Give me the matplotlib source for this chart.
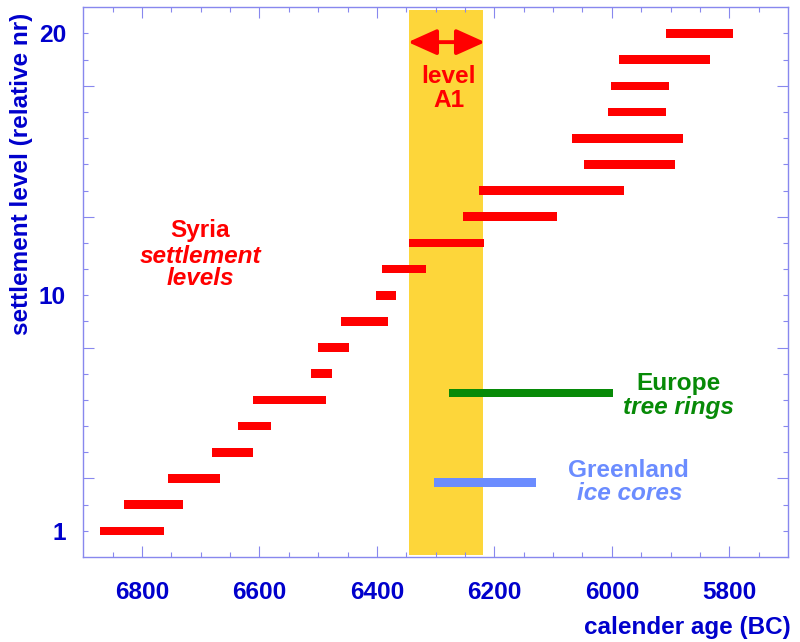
import matplotlib
matplotlib.use("Agg")
import matplotlib.pyplot as plt
import numpy as np

# ---- data ----
levels = list(range(1, 21))
level_start = [6871, 6831, 6756, 6680, 6636, 6611, 6512, 6501, 6462, 6402,
               6392, 6346, 6253, 6226, 6047, 6067, 6007, 6002, 5987, 5907]
level_end = [6762, 6731, 6667, 6611, 6581, 6487, 6477, 6447, 6381, 6367,
             6316, 6217, 6093, 5979, 5893, 5878, 5908, 5903, 5833, 5793]
tree_rings = (6277, 5998, 6.26)     # start, end, level
ice_cores = (6303, 6129, 2.85)
a1_band = (6345, 6219)
x_major = [6800, 6600, 6400, 6200, 6000, 5800]
y_labels = {1: "1", 10: "10", 20: "20"}

RED = "#ff0000"
GREEN = "#078a07"
LBLUE = "#6b8cff"
YELLOW = "#fdd63a"
DBLUE = "#0000cc"
AXC = "#8888ee"
FONT = "Liberation Sans"
FS = 17.6

plt.rcParams["font.family"] = [FONT, "DejaVu Sans"]

fig = plt.figure(figsize=(8.0, 6.42), dpi=100)
ax = fig.add_axes([0.1041, 0.1324, 0.985 - 0.1041, 0.9886 - 0.1324])
ax.set_xlim(6900, 5700)
ax.set_ylim(0, 21)

# yellow band
ax.axvspan(a1_band[0], a1_band[1], ymin=0.0035, ymax=0.996,
           color=YELLOW, lw=0, zorder=1)

# settlement bars
s = np.array(level_start); e = np.array(level_end)
ax.barh(levels, s - e, left=e, height=0.33, color=RED, lw=0, zorder=3)
ax.barh([tree_rings[2]], [tree_rings[0] - tree_rings[1]], left=[tree_rings[1]],
        height=0.31, color=GREEN, lw=0, zorder=3)
ax.barh([ice_cores[2]], [ice_cores[0] - ice_cores[1]], left=[ice_cores[1]],
        height=0.32, color=LBLUE, lw=0, zorder=3)

# arrow
ax.annotate("", xy=(a1_band[1] - 3, 19.67), xytext=(a1_band[0] + 2, 19.67),
            arrowprops=dict(arrowstyle="<|-|>,head_length=1.0,head_width=0.45",
                            mutation_scale=17.5, lw=2.8, color=RED,
                            shrinkA=0, shrinkB=0), zorder=5)

tk = dict(fontsize=FS, fontweight="bold", ha="center", va="baseline", zorder=6)
ax.text(6278, 18.11, "level", color=RED, **tk)
ax.text(6278, 17.2, "A1", color=RED, **tk)
ax.text(6701, 12.22, "Syria", color=RED, **tk)
ax.text(6700, 11.25, "settlement", color=RED, style="italic", **tk)
ax.text(6700, 10.38, "levels", color=RED, style="italic", **tk)
ax.text(5886, 6.37, "Europe", color=GREEN, **tk)
ax.text(5886, 5.45, "tree rings", color=GREEN, style="italic", **tk)
ax.text(5971, 3.06, "Greenland", color=LBLUE, **tk)
ax.text(5970, 2.17, "ice cores", color=LBLUE, style="italic", **tk)

# spines
for sp in ax.spines.values():
    sp.set_color(AXC)
    sp.set_linewidth(1.0)

# x ticks
ax.set_xticks(x_major)
ax.set_xticklabels([str(v) for v in x_major])
ax.set_xticks(np.arange(6850, 5700, -50), minor=True)
ax.tick_params(axis="x", which="major", direction="in", length=7.7, width=0.8,
               color=AXC, top=True, bottom=True, labelsize=FS,
               labelcolor=DBLUE, pad=17)
ax.tick_params(axis="x", which="minor", direction="in", length=3.6, width=0.8,
               color=AXC, top=True, bottom=True)

# y ticks: long unlabeled majors, short labeled minors
ax.set_yticks([3, 8, 13, 18])
ax.set_yticklabels(["", "", "", ""])
ax.set_yticks(levels, minor=True)
ax.set_yticklabels([y_labels.get(v, "") for v in levels], minor=True)
ax.tick_params(axis="y", which="major", direction="in", length=7.9, width=0.8,
               color=AXC, left=True, right=True)
ax.tick_params(axis="y", which="minor", direction="in", length=3.6, width=0.8,
               color=AXC, left=True, right=True, labelsize=FS,
               labelcolor=DBLUE, pad=12.5)

for lab in ax.get_xticklabels() + ax.get_yticklabels(minor=True):
    lab.set_fontweight("bold")
    lab.set_fontfamily(FONT)

# axis labels
fig.text(791 / 800, 1 - 634 / 642, "calender age (BC)", ha="right", va="baseline",
         fontsize=17.5, fontweight="bold", color=DBLUE)
fig.text(22 / 800, 1 - 174 / 642, "settlement level (relative nr)", rotation=90,
         ha="center", va="center", fontsize=17.5, fontweight="bold", color=DBLUE)

fig.savefig("out.png", dpi=100)
